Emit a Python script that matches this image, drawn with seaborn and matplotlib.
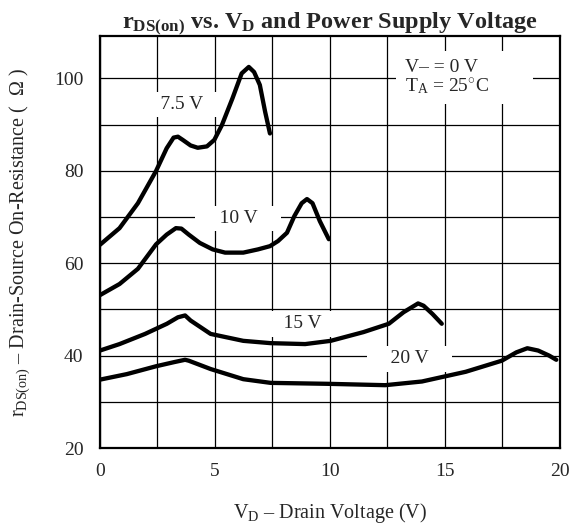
import pandas as pd
import matplotlib
matplotlib.use("Agg")
import matplotlib.pyplot as plt
import seaborn as sns
from matplotlib.ticker import MultipleLocator

# curves (V_D in volts, r_DS(on) in ohms)
vd_75 = [0, 0.85, 1.65, 2.44, 2.9, 3.2, 3.39, 3.6, 3.94, 4.25, 4.65, 4.97, 5.3, 5.76, 6.16, 6.47, 6.7, 6.95, 7.18, 7.39]
r_75 = [64.0, 67.6, 73.0, 80.0, 84.9, 87.2, 87.4, 86.7, 85.5, 85.0, 85.3, 86.7, 89.9, 95.7, 101.1, 102.5, 101.4, 98.6, 92.8, 88.1]

vd_10 = [0, 0.85, 1.65, 2.44, 2.9, 3.3, 3.54, 3.86, 4.34, 4.9, 5.44, 6.23, 6.87, 7.39, 7.74, 8.13, 8.45, 8.77, 9.0, 9.24, 9.56, 9.95]
r_10 = [53.1, 55.5, 58.8, 64.1, 66.2, 67.6, 67.5, 66.2, 64.4, 63.0, 62.3, 62.3, 63.0, 63.7, 64.8, 66.6, 70.2, 73.0, 73.9, 73.0, 69.1, 65.2]

vd_15 = [0, 0.85, 1.96, 2.91, 3.39, 3.7, 3.94, 4.81, 6.23, 7.42, 8.92, 10.03, 11.46, 12.56, 13.2, 13.83, 14.07, 14.46, 14.86]
r_15 = [41.1, 42.5, 44.7, 46.9, 48.3, 48.7, 47.6, 44.7, 43.2, 42.7, 42.5, 43.2, 45.1, 46.9, 49.4, 51.3, 50.8, 49.0, 46.9]

vd_20 = [0, 1.17, 2.44, 3.23, 3.7, 3.86, 4.81, 6.23, 7.42, 9.87, 12.4, 14.0, 15.9, 17.47, 18.1, 18.58, 19.05, 19.53, 19.84]
r_20 = [34.8, 36.0, 37.7, 38.6, 39.1, 38.9, 37.1, 34.9, 34.1, 33.9, 33.6, 34.4, 36.5, 38.9, 40.7, 41.6, 41.1, 40.0, 39.1]

supply_labels = ["7.5 V", "10 V", "15 V", "20 V"]
label_x = [3.55, 6.0, 8.8, 13.45]
label_y = [94.4, 69.7, 46.9, 39.3]

frames = []
for name, xs, ys in zip(supply_labels, [vd_75, vd_10, vd_15, vd_20], [r_75, r_10, r_15, r_20]):
    frames.append(pd.DataFrame({"vd": xs, "r": ys, "supply": name}))
df = pd.concat(frames, ignore_index=True)

sns.set_style("white")
plt.rcParams["font.family"] = ["Liberation Serif", "DejaVu Serif"]
plt.rcParams["mathtext.fontset"] = "custom"
plt.rcParams["mathtext.rm"] = "Liberation Serif"
plt.rcParams["mathtext.it"] = "Liberation Serif:italic"
plt.rcParams["mathtext.bf"] = "Liberation Serif:bold"

fig = plt.figure(figsize=(5.71, 5.27), dpi=100)
ax = fig.add_axes([0.1751, 0.1499, 0.8056, 0.7818])

sns.lineplot(data=df, x="vd", y="r", hue="supply", palette=["black"] * 4,
             legend=False, linewidth=3.1, sort=False, ax=ax, zorder=3)

ax.set_xlim(0, 20)
ax.set_ylim(20, 109.2)
ax.xaxis.set_major_locator(MultipleLocator(5))
ax.xaxis.set_minor_locator(MultipleLocator(2.5))
ax.yaxis.set_major_locator(MultipleLocator(20))
ax.yaxis.set_minor_locator(MultipleLocator(10))
ax.grid(True, which="both", color="black", linewidth=0.9, zorder=0)
ax.set_axisbelow(True)
ax.tick_params(which="both", length=0, labelsize=14)
ax.tick_params(axis="x", pad=11)
ax.tick_params(axis="y", pad=12)
for s in ax.spines.values():
    s.set_color("black")
    s.set_linewidth(1.6)

for txt, x, y in zip(supply_labels, label_x, label_y):
    ax.text(x, y, "    " + txt + "    ", ha="center", va="center", fontsize=14,
            bbox=dict(boxstyle="square,pad=0.22", fc="white", ec="none"), zorder=2)

ax.text(13.25, 100.3, "V– = 0 V\nT$_{\\rm A}$ = 25$^{\\circ}$C        ", ha="left", va="center",
        fontsize=14, linespacing=1.0, zorder=2,
        bbox=dict(boxstyle="square,pad=0.45", fc="white", ec="none"))

ax.set_title("r$_{\\mathbf{DS(on)}}$ vs. V$_{\\mathbf{D}}$ and Power Supply Voltage",
             fontsize=17.5, fontweight="bold", pad=5)
ax.set_xlabel("V$_{\\rm D}$ – Drain Voltage (V)", fontsize=14.5, labelpad=15)
ax.set_ylabel("r$_{\\rm DS(on)}$ – Drain-Source On-Resistance (  Ω )", fontsize=14.5, labelpad=16)

fig.savefig("out.png", dpi=100)
